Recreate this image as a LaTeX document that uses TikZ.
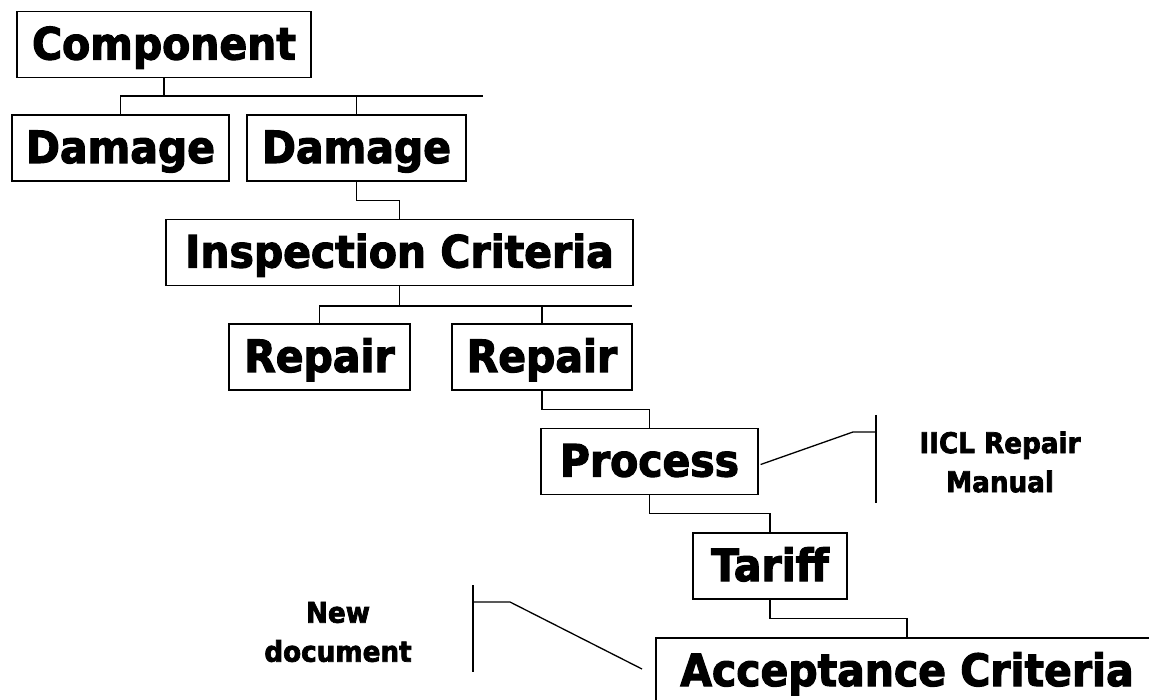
\documentclass[tikz,border=0pt]{standalone}
\usepackage{fontspec}
\usepackage{tikz}
\usetikzlibrary{calc}
\newfontfamily\blackfont[FakeBold=2.5, FakeStretch=0.92]{DejaVu Sans}
\tikzset{
  box/.style={draw, line width=1.3pt, minimum height=66pt, inner sep=0pt,
    text height=32pt, text depth=2pt,
    font=\blackfont\bfseries\fontsize{44.5}{48}\selectfont},
  note/.style={align=center, font=\blackfont\bfseries\fontsize{28.5}{39}\selectfont},
  wire/.style={line width=1.3pt}
}

\begin{document}
\begin{tikzpicture}[x=1pt,y=-1pt]
  \useasboundingbox (0,0) rectangle (1149,700);
  \node[box, minimum width=294pt] (comp) at (164,44.5) {Component};
  \node[box, minimum width=217pt] (dmgA) at (120.5,148) {Damage};
  \node[box, minimum width=219pt] (dmgB) at (356.5,148) {Damage};
  \node[box, minimum width=467pt] (insp) at (399.5,252.5) {Inspection Criteria};
  \node[box, minimum width=181pt] (repA) at (319.5,357) {Repair};
  \node[box, minimum width=180pt] (repB) at (542,357) {Repair};
  \node[box, minimum width=217pt] (proc) at (649.5,461.5) {Process};
  \node[box, minimum width=154pt] (tariff) at (770,566) {Tariff};
  \node[box, minimum width=502pt] (accept) at (907,671) {Acceptance Criteria};
  \node[note] (iicl) at (1000,462) {IICL Repair\\Manual};
  \node[note] (newdoc) at (338,632) {New\\document};

  \coordinate (busA) at (483,96);
  \draw[wire] (comp.south) -- (comp.south |- busA);
  \draw[wire] (dmgA.north) |- (busA);
  \draw[wire] (dmgB.north) -- (dmgB.north |- busA);
  \draw[wire] (dmgB.south) -- ++(0,19) -| (insp.north);

  \coordinate (busB) at (632,306);
  \draw[wire] (insp.south) -- (insp.south |- busB);
  \draw[wire] (repA.north) |- (busB);
  \draw[wire] (repB.north) -- (repB.north |- busB);
  \draw[wire] (repB.south) -- ++(0,19) -| (proc.north);
  \draw[wire] (proc.south) -- ++(0,18) -| (tariff.north);
  \draw[wire] (tariff.south) -- ++(0,19) -| (accept.north);

  % manual bracket
  \coordinate (iiclTop) at (876,415);
  \coordinate (iiclBot) at (876,503);
  \coordinate (iiclKnee) at (853,432);
  \draw[wire] (iiclTop) -- (iiclBot);
  \draw[wire] ([xshift=2pt,yshift=-3pt]proc.east) -- (iiclKnee) -- (iiclKnee -| iiclTop);

  % new document bracket
  \coordinate (newTop) at (473,585);
  \coordinate (newBot) at (473,672);
  \coordinate (newKnee) at (510,602);
  \coordinate (newEnd) at (642,669);
  \draw[wire] (newTop) -- (newBot);
  \draw[wire] (newTop |- newKnee) -- (newKnee) -- (newEnd);
\end{tikzpicture}
\end{document}
